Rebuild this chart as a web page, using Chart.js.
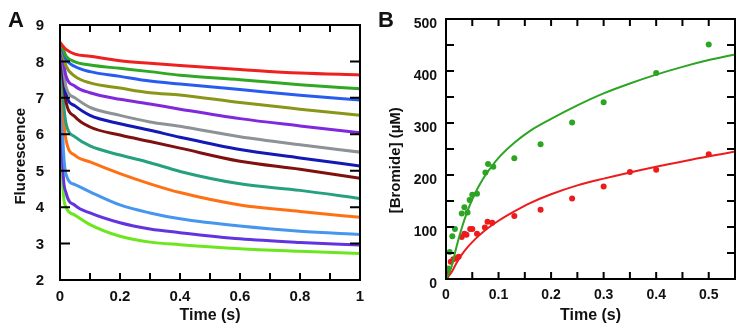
<!DOCTYPE html>
<html>
<head>
    <title>Fluorescence and bromide release</title>
    <script src="https://cdn.jsdelivr.net/npm/chart.js"></script>
    <style>
        body { margin: 0; background: #fff; }
        .wrap { position: relative; width: 749px; height: 335px; overflow: hidden; }
        .wrap canvas { position: absolute; top: 0; }
        .panel-label {
            position: absolute;
            font-family: "Liberation Sans", Arial, sans-serif;
            font-weight: bold;
            font-size: 22px;
            line-height: 22px;
            color: #111;
        }
    </style>
</head>
<body>
<div class="wrap">
    <canvas id="chartA" width="375" height="335" style="left:0"></canvas>
    <canvas id="chartB" width="374" height="335" style="left:375px"></canvas>
    <div class="panel-label" style="left:8px; top:9px">A</div>
    <div class="panel-label" style="left:378px; top:9px">B</div>
</div>

<script>
// ---- Panel A: fluorescence traces ----
const timesA = [0, 0.005, 0.01, 0.02, 0.05, 0.1, 0.2, 0.3, 0.4, 0.6, 0.8, 1.0];
const redA       = [8.52, 8.47, 8.42, 8.33, 8.20, 8.14, 8.02, 7.95, 7.89, 7.78, 7.68, 7.63];
const greenA     = [8.50, 8.42, 8.35, 8.15, 7.99, 7.90, 7.81, 7.72, 7.62, 7.50, 7.36, 7.25];
const blueA      = [8.45, 8.38, 8.28, 8.06, 7.86, 7.72, 7.59, 7.46, 7.38, 7.23, 7.07, 6.94];
const oliveA     = [8.45, 8.35, 8.20, 7.88, 7.59, 7.41, 7.27, 7.14, 7.08, 6.87, 6.69, 6.52];
const purpleA    = [8.45, 8.30, 8.05, 7.60, 7.32, 7.14, 6.96, 6.83, 6.69, 6.43, 6.23, 6.04];
const greyA      = [8.45, 8.25, 7.95, 7.30, 7.00, 6.74, 6.52, 6.34, 6.22, 5.93, 5.71, 5.51];
const navyA      = [8.45, 8.20, 7.80, 7.10, 6.78, 6.52, 6.29, 6.11, 5.92, 5.58, 5.35, 5.13];
const darkRedA   = [8.45, 8.10, 7.60, 6.90, 6.48, 6.20, 5.98, 5.80, 5.62, 5.26, 5.04, 4.79];
const tealA      = [8.50, 7.90, 7.10, 6.30, 5.93, 5.68, 5.43, 5.22, 4.98, 4.64, 4.46, 4.24];
const orangeA    = [8.50, 7.60, 6.70, 5.85, 5.42, 5.24, 4.92, 4.64, 4.40, 4.06, 3.88, 3.72];
const lightBlueA = [8.50, 7.20, 5.80, 4.90, 4.62, 4.42, 4.06, 3.84, 3.68, 3.48, 3.34, 3.25];
const violetA    = [8.50, 6.50, 5.00, 4.40, 4.05, 3.84, 3.57, 3.40, 3.30, 3.13, 3.03, 2.96];
const limeA      = [8.50, 6.00, 4.50, 4.00, 3.78, 3.52, 3.20, 3.04, 2.97, 2.86, 2.79, 2.73];

const seriesA = [
    [redA, 'rgb(238,32,32)'],
    [greenA, 'rgb(48,168,36)'],
    [blueA, 'rgb(40,92,240)'],
    [oliveA, 'rgb(138,150,24)'],
    [purpleA, 'rgb(128,40,220)'],
    [greyA, 'rgb(140,146,150)'],
    [navyA, 'rgb(20,24,180)'],
    [darkRedA, 'rgb(128,16,16)'],
    [tealA, 'rgb(38,160,128)'],
    [orangeA, 'rgb(255,112,20)'],
    [lightBlueA, 'rgb(70,150,240)'],
    [violetA, 'rgb(98,52,224)'],
    [limeA, 'rgb(108,230,30)']
];

// ---- Panel B: bromide release ----
const greenTimes = [0, 0.0044, 0.007, 0.012, 0.017, 0.030, 0.035, 0.041, 0.045, 0.050, 0.059, 0.075, 0.080, 0.090, 0.13, 0.18, 0.24, 0.30, 0.40, 0.50];
const greenBromide = [1, 20, 52, 82, 96, 126, 138, 128, 152, 162, 164, 205, 221, 216, 232, 259, 301, 340, 396, 451];
const redTimes = [0.002, 0.004, 0.009, 0.014, 0.019, 0.024, 0.030, 0.035, 0.039, 0.046, 0.050, 0.059, 0.074, 0.079, 0.088, 0.13, 0.18, 0.24, 0.30, 0.35, 0.40, 0.50];
const redBromide = [11, 17, 33, 38, 40, 43, 81, 87, 85, 96, 96, 87, 99, 110, 108, 121, 133, 155, 178, 206, 210, 240];
const fitTimes = [0, 0.01, 0.02, 0.03, 0.04, 0.05, 0.06, 0.07, 0.08, 0.1, 0.13, 0.16, 0.2, 0.25, 0.3, 0.35, 0.4, 0.45, 0.5, 0.55];
const greenFit = [0, 22, 62, 98, 128, 153, 174, 192, 207, 233, 262, 285, 308, 334, 357, 376, 393, 408, 421, 432];
const redFit = [0, 12, 31, 47, 60, 71, 81, 90, 98, 112, 130, 146, 163, 180, 193, 205, 216, 226, 236, 245];

const greenB = 'rgb(44,164,36)';
const redB = 'rgb(236,28,28)';

Chart.defaults.font.family = '"Liberation Sans", Arial, sans-serif';
Chart.defaults.font.weight = 'bold';
Chart.defaults.font.size = 15;
Chart.defaults.color = '#111';

// inward tick marks on all four sides plus the box frame
const frameTicks = {
    id: 'frameTicks',
    afterDatasetsDraw(chart, args, opts) {
        const { ctx, chartArea: a, scales } = chart;
        ctx.save();
        ctx.strokeStyle = '#000';
        ctx.lineWidth = 2;
        ctx.beginPath();
        scales.x.ticks.forEach(t => {
            const px = scales.x.getPixelForValue(t.value);
            if (px <= a.left + 1 || px >= a.right - 1) return;
            ctx.moveTo(px, a.bottom); ctx.lineTo(px, a.bottom - opts.xLen);
            ctx.moveTo(px, a.top); ctx.lineTo(px, a.top + opts.xLen);
        });
        scales.y.ticks.forEach(t => {
            const py = scales.y.getPixelForValue(t.value);
            if (py <= a.top + 1 || py >= a.bottom - 1) return;
            ctx.moveTo(a.left, py); ctx.lineTo(a.left + opts.yLen, py);
            ctx.moveTo(a.right, py); ctx.lineTo(a.right - opts.yLen, py);
        });
        ctx.stroke();
        ctx.strokeRect(a.left, a.top, a.right - a.left, a.bottom - a.top);
        ctx.restore();
    }
};

// label only every `step`, keep minor ticks blank
function labelEvery(step) {
    return function (value) {
        const r = value / step;
        if (Math.abs(r - Math.round(r)) > 1e-6) return '';
        return String(Math.round(value * 1000) / 1000);
    };
}

// Panel A
new Chart(document.getElementById('chartA'), {
    type: 'line',
    data: {
        datasets: seriesA.map(([vals, color]) => ({
            data: timesA.map((t, i) => ({ x: t, y: vals[i] })),
            borderColor: color,
            borderWidth: 3,
            pointRadius: 0,
            cubicInterpolationMode: 'monotone',
            fill: false
        }))
    },
    options: {
        responsive: false,
        animation: false,
        layout: { padding: { top: 19, right: 15, left: 0, bottom: 0 } },
        plugins: {
            legend: { display: false },
            tooltip: { enabled: false },
            frameTicks: { xLen: 7, yLen: 10 }
        },
        scales: {
            x: {
                type: 'linear',
                min: 0, max: 1,
                grid: { display: false, drawTicks: false },
                border: { display: false },
                ticks: { stepSize: 0.1, autoSkip: false, maxRotation: 0, padding: 8, callback: labelEvery(0.2) },
                title: { display: true, text: 'Time (s)', font: { size: 16, weight: 'bold' }, padding: { top: 0, bottom: 10 } },
                afterFit(s) { s.height = 55; }
            },
            y: {
                min: 2, max: 9,
                grid: { display: false, drawTicks: false },
                border: { display: false },
                ticks: { stepSize: 1, autoSkip: false, padding: 16, labelOffset: 1 },
                // trailing en space nudges the rotated title down a little, as in the figure
                title: { display: true, text: 'Fluorescence\u2002', font: { size: 15, weight: 'bold' }, padding: { top: 12, bottom: 0 } },
                afterFit(s) { s.width = 60; }
            }
        }
    },
    plugins: [frameTicks]
});

// Panel B
new Chart(document.getElementById('chartB'), {
    type: 'scatter',
    data: {
        datasets: [
            {
                type: 'line',
                data: fitTimes.map((t, i) => ({ x: t, y: greenFit[i] })),
                borderColor: greenB, borderWidth: 2, pointRadius: 0,
                cubicInterpolationMode: 'monotone', fill: false
            },
            {
                type: 'line',
                data: fitTimes.map((t, i) => ({ x: t, y: redFit[i] })),
                borderColor: redB, borderWidth: 2, pointRadius: 0,
                cubicInterpolationMode: 'monotone', fill: false
            },
            {
                data: greenTimes.map((t, i) => ({ x: t, y: greenBromide[i] })),
                backgroundColor: greenB, borderWidth: 0, pointRadius: 3
            },
            {
                data: redTimes.map((t, i) => ({ x: t, y: redBromide[i] })),
                backgroundColor: redB, borderWidth: 0, pointRadius: 3
            }
        ]
    },
    options: {
        responsive: false,
        animation: false,
        layout: { padding: { top: 19, right: 14, left: 0, bottom: 0 } },
        plugins: {
            legend: { display: false },
            tooltip: { enabled: false },
            frameTicks: { xLen: 7, yLen: 8 }
        },
        scales: {
            x: {
                type: 'linear',
                min: 0, max: 0.55,
                grid: { display: false, drawTicks: false },
                border: { display: false },
                ticks: { stepSize: 0.05, autoSkip: false, maxRotation: 0, padding: 8, font: { size: 14 }, callback: labelEvery(0.1) },
                title: { display: true, text: 'Time (s)', font: { size: 16, weight: 'bold' }, padding: { top: 0, bottom: 10 } },
                afterFit(s) { s.height = 56; }
            },
            y: {
                min: 0, max: 500,
                grid: { display: false, drawTicks: false },
                border: { display: false },
                ticks: { stepSize: 50, autoSkip: false, padding: 9, labelOffset: 5, font: { size: 14 }, callback: labelEvery(100) },
                title: { display: true, text: '[Bromide] (µM)\u2002\u2002\u2002', font: { size: 15, weight: 'bold' }, padding: { top: 12, bottom: 0 } },
                afterFit(s) { s.width = 71; }
            }
        }
    },
    plugins: [frameTicks]
});
</script>
</body>
</html>
